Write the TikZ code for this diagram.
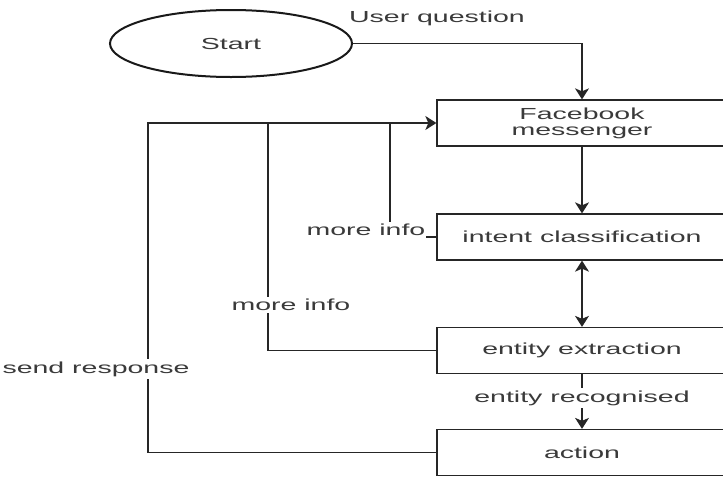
\documentclass[tikz,border=0pt]{standalone}
\usepackage{fontspec}
\setmainfont{Liberation Sans}
\usepackage{graphicx}
\usetikzlibrary{arrows.meta,shapes.geometric}
\newcommand{\wtext}[1]{\scalebox{1.78}[1]{#1}}
\definecolor{txt}{HTML}{3A3A3A}
\tikzset{
  box/.style={draw=black!85, line width=1.3pt, fill=white, minimum width=290pt, minimum height=46pt, inner sep=0pt, align=center, text=txt},
  conn/.style={draw=black!85, line width=1.2pt},
  arr/.style={conn, -{Stealth[length=11pt, width=14pt, inset=3pt]}},
  darr/.style={conn, {Stealth[length=11pt, width=14pt, inset=3pt]}-{Stealth[length=11pt, width=14pt, inset=3pt]}},
  lbl/.style={fill=white, text=txt, inner xsep=1pt, inner ysep=2.5pt}
}
\begin{document}
\begin{tikzpicture}[x=1pt, y=-1pt, font=\fontsize{16}{17}\selectfont]
\useasboundingbox (0,0) rectangle (723,477);
\clip (0,0) rectangle (723,477);
\fill[white] (0,0) rectangle (723,477);

\node[draw=black!90, line width=2pt, ellipse, minimum width=242pt, minimum height=67pt, inner sep=0pt, text=txt] (start) at (231,43.5) {\wtext{Start}};
\node[box] (fb) at (582,123) {\wtext{Facebook}\\[-1pt]\wtext{messenger}};
\node[box] (ic) at (582,237) {\wtext{intent classification}};
\node[box] (ee) at (582,350.5) {\wtext{entity extraction}};
\node[box] (ac) at (582,452.5) {\wtext{action}};

\coordinate (j1) at (148,123);
\coordinate (j2) at (268,123);
\coordinate (j3) at (390,123);

\draw[arr] (start.east) -| (fb.north);
\draw[arr] (fb.south) -- (ic.north);
\draw[darr] (ic.south) -- (ee.north);
\draw[arr] (ee.south) -- (ac.north);
\draw[arr] (ac.west) -| (j1) -- (fb.west);
\draw[conn] (ee.west) -| (j2);
\draw[conn] (ic.west) -| (j3);

\node[text=txt] (uq) at (437,18) {\wtext{User question}};
\node[lbl] (er) at (582,398) {\wtext{entity recognised}};
\node[lbl] (sr) at (96,369) {\wtext{send response}};
\node[lbl] (mi2) at (291,305) {\wtext{more info}};
\node[lbl] (mi1) at (366,230) {\wtext{more info}};
\end{tikzpicture}
\end{document}
